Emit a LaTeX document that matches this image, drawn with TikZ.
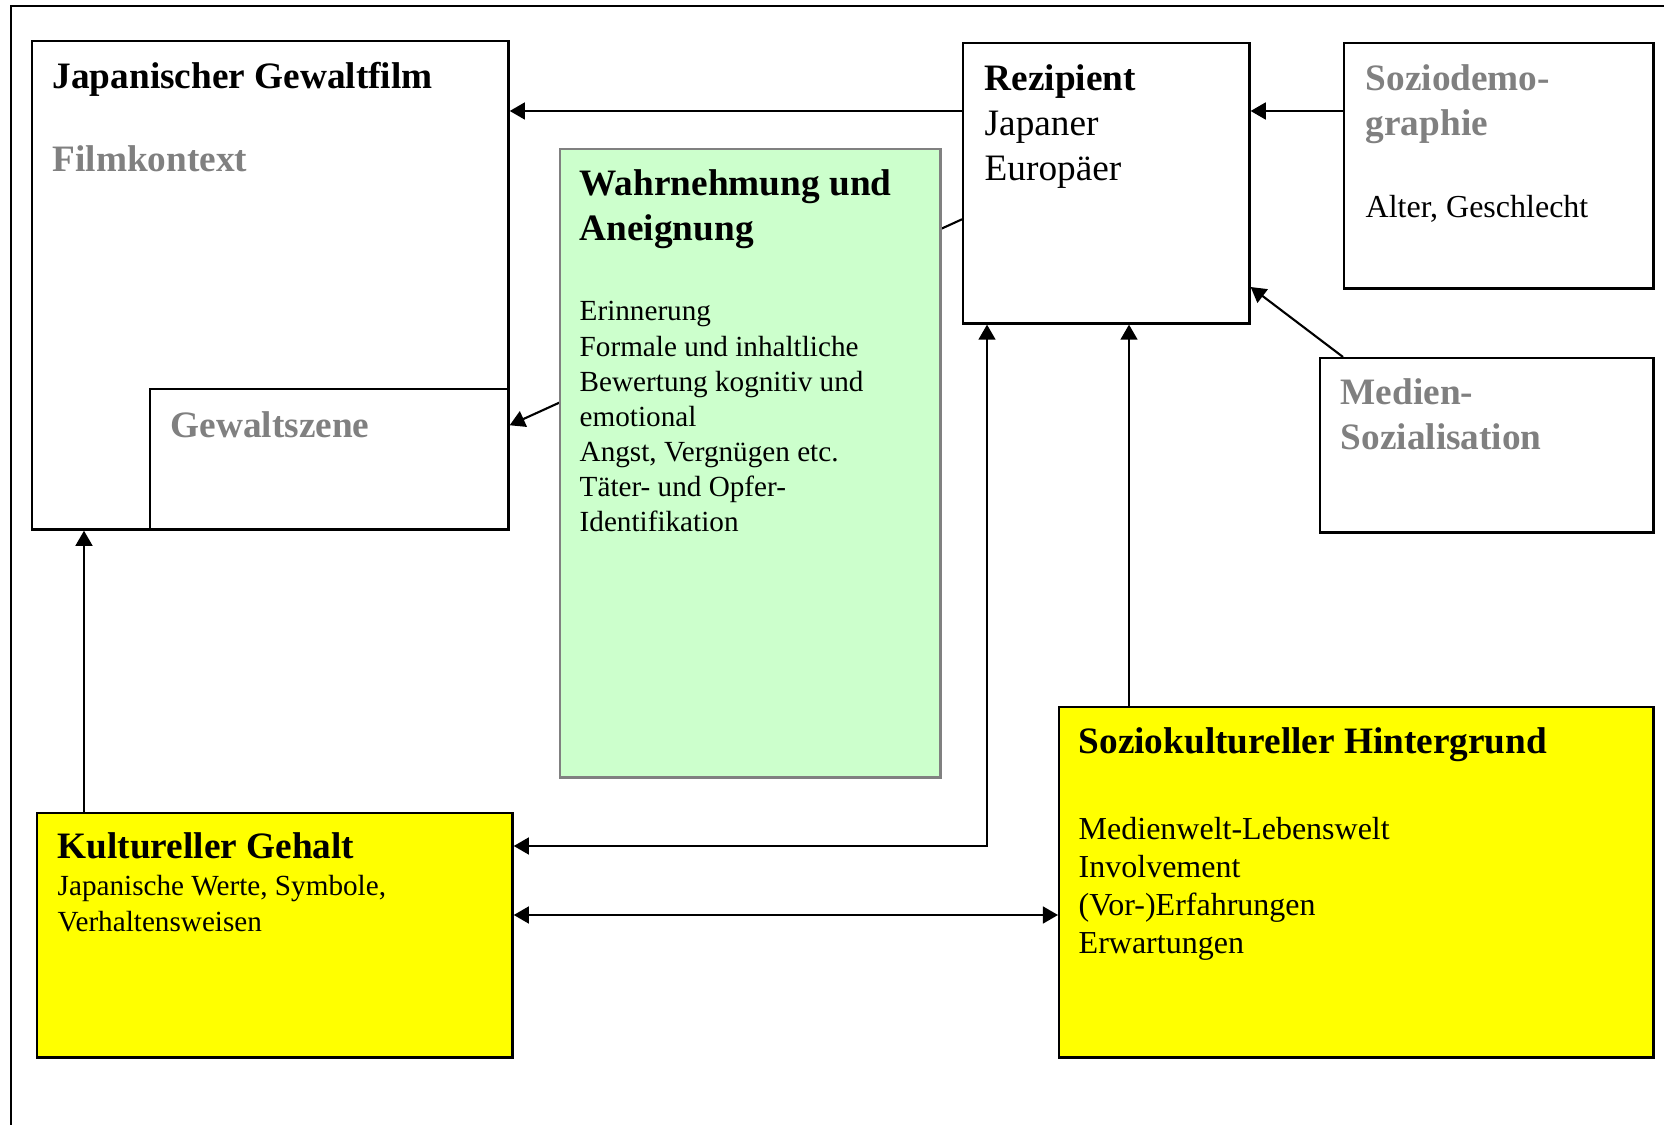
\documentclass[tikz,border=0pt]{standalone}
\usepackage{fontspec}
\setmainfont{Liberation Serif}
\usetikzlibrary{arrows.meta,calc,positioning}
\definecolor{hellgruen}{RGB}{204,255,204}
\definecolor{grautext}{RGB}{128,128,128}
\definecolor{gelb}{RGB}{255,255,0}

\begin{document}
\begin{tikzpicture}[x=0.01cm,y=-0.01cm,
	box/.style={draw,line width=0.7pt,anchor=north west,inner sep=0pt},
	titel/.style={anchor=base west,inner sep=0pt,align=left,font=\fontsize{10.6}{12.8}\selectfont\bfseries},
	grau/.style={titel,text=grautext},
	liste/.style={anchor=base west,inner sep=0pt,align=left,font=\fontsize{8.3}{10}\selectfont},
	pfeil/.style={line width=0.6pt,-{Triangle[length=4.3pt,width=4.8pt]}},
	pfeile/.style={line width=0.6pt,{Triangle[length=4.3pt,width=4.8pt]}-{Triangle[length=4.3pt,width=4.8pt]}}]
	\useasboundingbox (0,0) rectangle (1664,1125);
	\draw[line width=0.6pt] (1664,6) -- (11,6) -- (11,1125);

	\node[box,minimum width=4.76cm,minimum height=4.88cm] (1) at (31,40) {};
	\node[box,minimum width=3.58cm,minimum height=1.40cm] (2) at (149,388) {};
	\node[box,minimum width=2.86cm,minimum height=2.80cm] (4) at (962,42) {};
	\node[box,minimum width=3.09cm,minimum height=2.45cm] (5) at (1343,42) {};
	\node[box,minimum width=3.33cm,minimum height=1.74cm] (6) at (1319,357) {};
	\node[box,fill=gelb,minimum width=4.75cm,minimum height=2.44cm] (7) at (36,812) {};
	\node[box,fill=gelb,minimum width=5.94cm,minimum height=3.50cm] (8) at (1058,706) {};
	\coordinate (9) at (987,846);

	\draw[pfeil] ($(4.west)+(0,36)$) -- ($(2.east)+(0,-34)$);
	\node[box,draw=grautext,fill=hellgruen,minimum width=3.80cm,minimum height=6.28cm] (3) at (559,148) {};

	\draw[pfeil] (4.west |- 0,111) -- (1.east |- 0,111);
	\draw[pfeil] (5.west |- 0,111) -- (4.east |- 0,111);
	\draw[pfeil] ($(6.north west)+(24,0)$) -- (4.east |- 0,287);
	\draw[pfeil] (7.north -| 84,0) -- (1.south -| 84,0);
	\draw[pfeil] (8.north -| 1129,0) -- (4.south -| 1129,0);
	\draw[pfeile] (7.east |- 9) -- (9) -- (4.south -| 9);
	\draw[pfeile] (7.east |- 0,915) -- (8.west |- 0,915);

	\node[titel] (t1) at (52,89) {Japanischer Gewaltfilm};
	\node[grau] (t2) at (52,172) {Filmkontext};
	\node[grau] (t3) at (170,438) {Gewaltszene};
	\node[titel] (t4) at (579,241) {Wahrnehmung und\\Aneignung};
	\node[liste] (t5) at (579,532) {Erinnerung\\Formale und inhaltliche\\Bewertung kognitiv und\\emotional\\Angst, Vergnügen etc.\\Täter- und Opfer-\\Identifikation};
	\node[titel] (t6) at (984,181) {Rezipient\\\mdseries Japaner\\\mdseries Europäer};
	\node[grau] (t7) at (1365,136) {Soziodemo-\\graphie};
	\node[liste,font=\fontsize{9.1}{11}\selectfont] (t8) at (1365,218) {Alter, Geschlecht};
	\node[grau] (t9) at (1340,450) {Medien-\\Sozialisation};
	\node[titel] (t10) at (57,858) {Kultureller Gehalt};
	\node[liste] (t11) at (57,931) {Japanische Werte, Symbole,\\Verhaltensweisen};
	\node[titel] (t12) at (1078,753) {Soziokultureller Hintergrund};
	\node[liste,font=\fontsize{9.1}{10.8}\selectfont] (t13) at (1078,953) {Medienwelt-Lebenswelt\\Involvement\\(Vor-)Erfahrungen\\Erwartungen};
\end{tikzpicture}
\end{document}
